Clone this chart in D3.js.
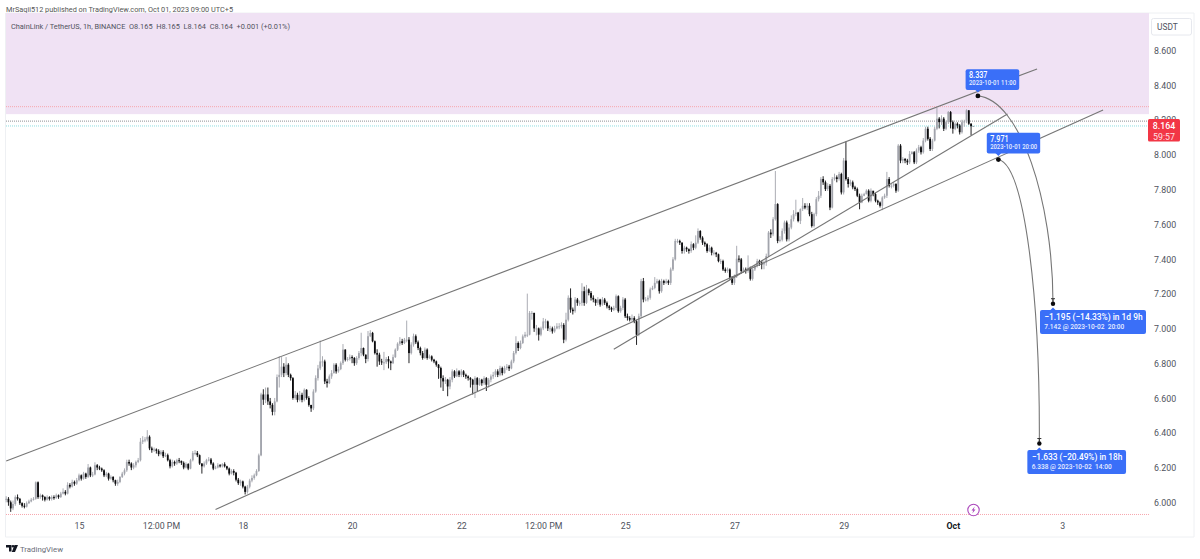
<!DOCTYPE html>
<html>
<head>
<meta charset="utf-8">
<title>ChainLink / TetherUS, 1h</title>
<script src="https://cdnjs.cloudflare.com/ajax/libs/d3/7.8.5/d3.min.js"></script>
<style>
  html, body { margin: 0; padding: 0; background: #fff; }
  svg { display: block; font-family: Roboto, "Open Sans", sans-serif; }
  .axis path, .axis line { display: none; }
  .axis text { font-size: 8.8px; fill: #50535e; font-family: Roboto, sans-serif; }
</style>
</head>
<body>
<svg id="chart" width="1200" height="559"></svg>
<script>
// Hourly bars from 2023-09-13 16:00 to 2023-10-01 09:00, each row is 20 hours.
const firstBar = Date.UTC(2023, 8, 13, 16);

const closes = [
  6.02,6.00,5.965,5.99,6.03,6.02,5.995,5.98,5.975,5.995,6.005,6.015,6.02,6.115,6.03,6.04,6.03,6.015,6.03,6.02,
  6.03,6.026,6.04,6.03,6.05,6.06,6.05,6.10,6.09,6.117,6.107,6.127,6.155,6.136,6.165,6.146,6.20,6.155,6.16,6.213,
  6.2,6.194,6.184,6.155,6.165,6.136,6.146,6.127,6.107,6.117,6.146,6.165,6.184,6.232,6.223,6.2,6.213,6.232,6.242,6.348,
  6.357,6.361,6.377,6.31,6.30,6.304,6.296,6.277,6.29,6.265,6.271,6.242,6.207,6.232,6.223,6.242,6.238,6.227,6.2,6.22,
  6.194,6.242,6.284,6.284,6.271,6.223,6.207,6.223,6.242,6.246,6.223,6.194,6.2,6.213,6.207,6.219,6.207,6.194,6.165,6.18,
  6.17,6.13,6.11,6.12,6.09,6.06,6.09,6.125,6.14,6.155,6.18,6.27,6.62,6.59,6.62,6.58,6.56,6.52,6.58,6.72,
  6.733,6.78,6.743,6.791,6.733,6.714,6.6,6.618,6.589,6.618,6.589,6.647,6.6,6.56,6.54,6.637,6.714,6.77,6.81,6.81,
  6.695,6.685,6.724,6.743,6.791,6.753,6.766,6.8,6.878,6.82,6.824,6.835,6.83,6.8,6.83,6.858,6.887,6.849,6.824,6.955,
  6.974,6.926,6.858,6.849,6.81,6.805,6.805,6.824,6.81,6.8,6.835,6.878,6.912,6.926,6.916,6.935,6.935,6.858,6.907,6.955,
  6.92,6.887,6.858,6.83,6.878,6.83,6.839,6.82,6.81,6.791,6.772,6.714,6.695,6.705,6.666,6.705,6.753,6.724,6.753,6.733,
  6.753,6.733,6.724,6.714,6.705,6.676,6.714,6.676,6.705,6.685,6.714,6.676,6.705,6.724,6.733,6.753,6.733,6.772,6.743,6.772,
  6.78,6.77,6.81,6.858,6.916,6.887,6.916,6.954,6.964,6.964,7.089,7.089,7.0,7.0,6.964,7.0,7.04,7.04,7.0,7.0,
  6.983,7.0,7.012,7.012,7.02,6.935,7.05,7.176,7.108,7.099,7.166,7.147,7.147,7.214,7.147,7.224,7.204,7.176,7.166,7.147,
  7.166,7.137,7.166,7.147,7.127,7.118,7.108,7.118,7.185,7.099,7.118,7.166,7.07,7.06,7.05,7.06,7.041,6.964,7.07,7.272,
  7.166,7.166,7.176,7.224,7.233,7.262,7.272,7.214,7.272,7.262,7.272,7.262,7.339,7.397,7.503,7.503,7.493,7.445,7.464,7.455,
  7.445,7.484,7.464,7.493,7.56,7.522,7.493,7.484,7.445,7.464,7.435,7.435,7.426,7.387,7.387,7.339,7.33,7.339,7.291,7.262,
  7.3,7.401,7.397,7.33,7.339,7.33,7.349,7.285,7.339,7.358,7.387,7.378,7.368,7.378,7.416,7.551,7.541,7.628,7.715,7.503,
  7.51,7.561,7.609,7.512,7.58,7.628,7.657,7.666,7.618,7.686,7.705,7.695,7.705,7.657,7.589,7.657,7.743,7.763,7.859,7.84,
  7.801,7.82,7.695,7.859,7.869,7.859,7.888,7.782,7.965,7.859,7.83,7.84,7.811,7.801,7.763,7.724,7.763,7.772,7.792,7.734,
  7.792,7.772,7.734,7.724,7.705,7.753,7.763,7.859,7.82,7.82,7.83,7.792,8.051,7.965,7.974,7.965,7.955,8.003,8.013,7.955,
  8.023,8.042,8.013,8.08,8.148,8.09,8.032,8.08,8.148,8.206,8.186,8.206,8.148,8.186,8.244,8.186,8.148,8.177,8.167,8.128,
  8.186,8.19,8.254,8.177,8.163,8.164
];

const highs = [
  6.035,6.03,6.01,6.01,6.04,6.045,6.025,6.0,5.995,6.005,6.015,6.025,6.03,6.12,6.12,6.05,6.045,6.035,6.04,6.035,
  6.04,6.04,6.05,6.045,6.06,6.08,6.07,6.115,6.11,6.13,6.125,6.14,6.165,6.16,6.175,6.17,6.22,6.205,6.175,6.23,
  6.22,6.21,6.2,6.19,6.175,6.17,6.155,6.15,6.13,6.13,6.15,6.175,6.195,6.245,6.245,6.23,6.225,6.24,6.255,6.37,
  6.38,6.375,6.415,6.385,6.32,6.315,6.31,6.305,6.3,6.3,6.285,6.28,6.25,6.245,6.24,6.25,6.255,6.24,6.235,6.23,
  6.225,6.25,6.295,6.3,6.295,6.275,6.225,6.235,6.25,6.26,6.255,6.23,6.21,6.225,6.22,6.225,6.23,6.21,6.2,6.19,
  6.19,6.175,6.14,6.13,6.125,6.095,6.1,6.135,6.155,6.165,6.19,6.28,6.63,6.65,6.66,6.66,6.6,6.57,6.6,6.735,
  6.84,6.835,6.8,6.835,6.8,6.74,6.72,6.64,6.63,6.64,6.63,6.655,6.65,6.61,6.56,6.65,6.73,6.79,6.93,6.84,
  6.82,6.71,6.735,6.76,6.8,6.8,6.78,6.81,6.91,6.88,6.835,6.85,6.845,6.835,6.84,6.87,6.975,6.89,6.85,6.985,
  6.99,6.98,6.93,6.88,6.86,6.825,6.865,6.835,6.84,6.815,6.85,6.885,6.92,6.95,6.94,6.945,7.045,6.95,6.92,6.97,
  6.965,6.93,6.895,6.87,6.89,6.885,6.85,6.845,6.825,6.815,6.795,6.78,6.73,6.72,6.71,6.72,6.765,6.76,6.77,6.76,
  6.765,6.76,6.74,6.73,6.72,6.71,6.725,6.72,6.715,6.71,6.725,6.72,6.715,6.735,6.75,6.765,6.765,6.785,6.78,6.785,
  6.795,6.79,6.82,6.87,6.955,6.925,6.93,6.965,6.98,7.2,7.1,7.1,7.09,7.02,7.005,7.01,7.06,7.055,7.045,7.015,
  7.01,7.015,7.03,7.03,7.035,7.03,7.09,7.19,7.23,7.12,7.18,7.175,7.16,7.26,7.24,7.25,7.23,7.215,7.19,7.17,
  7.18,7.17,7.18,7.175,7.155,7.135,7.125,7.13,7.195,7.19,7.13,7.18,7.175,7.085,7.07,7.08,7.07,7.05,7.085,7.285,
  7.29,7.18,7.19,7.235,7.245,7.295,7.285,7.28,7.285,7.28,7.285,7.28,7.35,7.41,7.515,7.515,7.51,7.495,7.475,7.47,
  7.46,7.5,7.49,7.535,7.575,7.565,7.53,7.5,7.49,7.48,7.47,7.45,7.44,7.43,7.4,7.395,7.35,7.35,7.345,7.3,
  7.31,7.475,7.42,7.405,7.35,7.35,7.42,7.355,7.345,7.365,7.4,7.395,7.39,7.39,7.43,7.56,7.57,7.64,7.905,7.72,
  7.53,7.575,7.62,7.62,7.6,7.65,7.68,7.74,7.67,7.69,7.75,7.72,7.72,7.72,7.67,7.665,7.755,7.79,7.87,7.875,
  7.85,7.835,7.83,7.87,7.89,7.88,7.9,7.895,7.98,8.075,7.87,7.855,7.85,7.82,7.81,7.775,7.775,7.78,7.8,7.8,
  7.805,7.79,7.78,7.74,7.73,7.76,7.775,7.9,7.87,7.83,7.84,7.835,8.06,8.06,7.985,7.98,7.975,8.02,8.02,8.02,
  8.035,8.055,8.05,8.095,8.16,8.16,8.1,8.09,8.16,8.27,8.215,8.225,8.215,8.195,8.25,8.25,8.195,8.185,8.185,8.175,
  8.2,8.2,8.26,8.255,8.18,8.165
];

const lows = [
  6.0,5.98,5.945,5.955,5.98,6.01,5.985,5.97,5.965,5.97,5.99,6.0,6.01,6.015,6.02,6.02,6.01,6.005,6.01,6.01,
  6.01,6.015,6.02,6.02,6.025,6.045,6.04,6.045,6.08,6.085,6.095,6.1,6.12,6.125,6.13,6.135,6.14,6.145,6.145,6.155,
  6.185,6.185,6.175,6.145,6.145,6.125,6.13,6.115,6.095,6.095,6.11,6.14,6.155,6.175,6.21,6.185,6.19,6.2,6.225,6.235,
  6.335,6.345,6.35,6.3,6.285,6.29,6.28,6.265,6.27,6.255,6.26,6.235,6.195,6.2,6.21,6.215,6.225,6.215,6.19,6.195,
  6.185,6.19,6.235,6.27,6.26,6.215,6.165,6.2,6.215,6.235,6.215,6.185,6.19,6.195,6.2,6.2,6.2,6.185,6.155,6.16,
  6.155,6.12,6.1,6.095,6.08,6.045,6.05,6.08,6.115,6.13,6.15,6.175,6.265,6.56,6.57,6.56,6.54,6.5,6.5,6.575,
  6.66,6.72,6.72,6.73,6.72,6.7,6.59,6.59,6.575,6.58,6.575,6.58,6.59,6.55,6.52,6.53,6.63,6.7,6.76,6.78,
  6.68,6.66,6.68,6.71,6.74,6.74,6.745,6.76,6.79,6.81,6.81,6.815,6.8,6.785,6.79,6.82,6.84,6.84,6.8,6.81,
  6.95,6.92,6.85,6.78,6.79,6.79,6.76,6.795,6.77,6.76,6.795,6.83,6.87,6.9,6.905,6.91,6.92,6.8,6.85,6.895,
  6.91,6.875,6.845,6.82,6.825,6.82,6.825,6.81,6.8,6.78,6.71,6.66,6.64,6.68,6.61,6.65,6.69,6.715,6.72,6.72,
  6.72,6.72,6.71,6.7,6.66,6.62,6.6,6.64,6.67,6.67,6.675,6.64,6.66,6.69,6.71,6.72,6.72,6.725,6.73,6.74,
  6.76,6.755,6.765,6.8,6.85,6.87,6.88,6.91,6.945,6.95,6.96,7.05,6.98,6.96,6.93,6.955,6.99,7.0,6.985,6.98,
  6.97,6.975,6.995,6.995,7.0,6.915,6.925,7.04,7.09,7.08,7.09,7.13,7.13,7.13,7.13,7.14,7.19,7.16,7.15,7.13,
  7.135,7.125,7.13,7.135,7.115,7.105,7.095,7.1,7.105,7.09,7.09,7.105,7.06,7.045,7.04,7.04,7.03,6.905,6.955,7.06,
  7.15,7.155,7.155,7.165,7.22,7.225,7.255,7.2,7.205,7.25,7.255,7.25,7.25,7.33,7.39,7.49,7.48,7.43,7.43,7.44,
  7.43,7.435,7.45,7.455,7.485,7.51,7.48,7.47,7.435,7.44,7.42,7.42,7.41,7.38,7.37,7.33,7.32,7.32,7.28,7.25,
  7.25,7.29,7.38,7.315,7.32,7.315,7.32,7.275,7.275,7.33,7.35,7.36,7.34,7.34,7.36,7.41,7.52,7.53,7.62,7.49,
  7.495,7.5,7.545,7.5,7.5,7.57,7.615,7.645,7.61,7.6,7.675,7.685,7.68,7.645,7.58,7.58,7.645,7.73,7.75,7.825,
  7.79,7.79,7.68,7.69,7.85,7.84,7.85,7.77,7.77,7.85,7.81,7.82,7.8,7.79,7.755,7.685,7.72,7.76,7.77,7.725,
  7.725,7.76,7.725,7.71,7.695,7.68,7.745,7.75,7.81,7.805,7.81,7.78,7.785,7.95,7.95,7.95,7.94,7.945,8.0,7.945,
  7.945,8.01,8.0,8.005,8.07,8.08,8.02,8.02,8.075,8.14,8.15,8.17,8.135,8.14,8.175,8.15,8.12,8.14,8.15,8.115,
  8.12,8.16,8.18,8.17,8.11,8.164
];

const priceTicks = [6.0,6.2,6.4,6.6,6.8,7.0,7.2,7.4,7.6,7.8,8.0,8.2,8.4,8.6];
const timeTicks = [
  ["2023-09-15T00:00Z", "15"], ["2023-09-16T12:00Z", "12:00 PM"], ["2023-09-18T00:00Z", "18"],
  ["2023-09-20T00:00Z", "20"], ["2023-09-22T00:00Z", "22"], ["2023-09-23T12:00Z", "12:00 PM"],
  ["2023-09-25T00:00Z", "25"], ["2023-09-27T00:00Z", "27"], ["2023-09-29T00:00Z", "29"],
  ["2023-10-01T00:00Z", "Oct"], ["2023-10-03T00:00Z", "3"]
];

// Drawn trend lines as [time, price] end points.
const upperChannel = [["2023-09-13T16:00Z", 6.2375], ["2023-10-02T13:00Z", 8.492]];
const lowerChannel = [["2023-09-17T12:00Z", 5.959], ["2023-10-03T18:00Z", 8.256]];
const risingSupport = [["2023-09-24T19:00Z", 6.88], ["2023-10-02T00:00Z", 8.233]];

// Projected drops: start, two bezier handles, end.
const dropA = [["2023-10-01T11:00Z", 8.337], ["2023-10-02T05:30Z", 8.314], ["2023-10-02T20:00Z", 7.738], ["2023-10-02T20:00Z", 7.142]];
const dropB = [["2023-10-01T20:00Z", 7.971], ["2023-10-02T07:40Z", 7.94], ["2023-10-02T14:20Z", 7.163], ["2023-10-02T14:00Z", 6.338]];

// Horizontal levels.
const bandTop = 8.232;
const upperLevel = 8.275;
const lowerLevel = 5.93;
const highLevel = 8.192;
const lastPrice = 8.164;

const svg = d3.select("#chart");
const x = d3.scaleUtc().domain([new Date("2023-09-15T00:00Z"), new Date("2023-10-03T00:00Z")]).range([79, 1062.1]);
const y = d3.scaleLinear().domain([6, 8.6]).range([502.3, 50.16]);

const plotLeft = 6, plotRight = 1149, plotTop = 13, frameRight = 1194, frameBottom = 537;
const t = s => x(new Date(s));
const pt = ([s, p]) => [t(s), y(p)];

// Frame around the chart.
svg.append("path")
  .attr("d", `M${plotLeft - .5},13V${frameBottom}H${frameRight}V13H${plotLeft}`)
  .attr("fill", "none").attr("stroke", "#eef0f3").attr("stroke-width", 1);

// Shaded zone above the resistance.
svg.append("rect").attr("x", plotLeft).attr("y", plotTop)
  .attr("width", plotRight - plotLeft).attr("height", y(bandTop) - plotTop)
  .attr("fill", "#f0e2f4");

// Levels.
const level = (p, color, dash) => svg.append("line")
  .attr("x1", plotLeft).attr("x2", plotRight).attr("y1", y(p)).attr("y2", y(p))
  .attr("stroke", color).attr("stroke-width", 1).attr("stroke-dasharray", dash);
level(upperLevel, "#f7a6ad", "1 1");
level(lowerLevel, "#f7a6ad", "1 1");
level(highLevel, "#8f8f93", "1 1");
level(lastPrice, "#8fdde0", "1 1");

// Candles: open is the prior close.
const bars = closes.map((c, i) => ({
  time: new Date(firstBar + i * 3600e3),
  open: i ? closes[i - 1] : c,
  close: c, high: highs[i], low: lows[i]
}));
const upColor = "#a2a4ac", downColor = "#0b0b0d";
const candles = svg.append("g").selectAll("g").data(bars).join("g");
candles.append("line")
  .attr("x1", d => x(d.time)).attr("x2", d => x(d.time))
  .attr("y1", d => y(d.high)).attr("y2", d => y(d.low))
  .attr("stroke", d => d.close >= d.open ? upColor : downColor)
  .attr("stroke-width", .9);
candles.append("rect")
  .attr("x", d => x(d.time) - .9).attr("width", 1.8)
  .attr("y", d => y(Math.max(d.open, d.close)))
  .attr("height", d => Math.max(1, Math.abs(y(d.open) - y(d.close))))
  .attr("fill", d => d.close >= d.open ? upColor : downColor);

// Trend lines.
for (const seg of [upperChannel, lowerChannel, risingSupport]) {
  svg.append("path").attr("d", d3.line()(seg.map(pt)))
    .attr("fill", "none").attr("stroke", "#767676").attr("stroke-width", 1.1);
}

// Drop curves with their end markers.
for (const c of [dropA, dropB]) {
  const [a, b, d, e] = c.map(pt);
  const path = d3.path();
  path.moveTo(a[0], a[1]);
  path.bezierCurveTo(b[0], b[1], d[0], d[1], e[0], e[1]);
  svg.append("path").attr("d", path.toString()).attr("fill", "none")
    .attr("stroke", "#767676").attr("stroke-width", 1.1);
  svg.append("circle").attr("cx", a[0]).attr("cy", a[1]).attr("r", 2.4).attr("fill", "#0b0b0d");
  svg.append("circle").attr("cx", e[0]).attr("cy", e[1]).attr("r", 2.2).attr("fill", "#0b0b0d");
  svg.append("path")
    .attr("d", `M${e[0] - 2},${e[1] - 5}h4M${e[0]},${e[1] - 5}v3`)
    .attr("stroke", "#333").attr("stroke-width", 1).attr("fill", "none");
}

// Blue callouts anchored to their price points.
const callouts = [
  { at: dropA[0], dx: -12.3, dy: -26.6, w: 53.6, h: 20.7, up: false, main: "8.337", sub: "2023-10-01 11:00",
    mainSize: 9, subSize: 6.4, mainLen: 18.5, subLen: 47, mainY: 9.2, subY: 16.2, pad: 3.4 },
  { at: dropB[0], dx: -11.6, dy: -26.8, w: 53.4, h: 20.7, up: false, main: "7.971", sub: "2023-10-01 20:00",
    mainSize: 9, subSize: 6.4, mainLen: 18.5, subLen: 47, mainY: 9.2, subY: 16.2, pad: 3.4 },
  { at: dropA[3], dx: -13, dy: 6.3, w: 106, h: 24, up: true, main: "\u22121.195 (\u221214.33%) in 1d 9h", sub: "7.142 @ 2023-10-02  20:00",
    mainSize: 9.4, subSize: 6.6, mainLen: 98.3, subLen: 80, mainY: 10.3, subY: 19.4, pad: 4.3 },
  { at: dropB[3], dx: -12, dy: 6.5, w: 98.7, h: 24, up: true, main: "\u22121.633 (\u221220.49%) in 18h", sub: "6.338 @ 2023-10-02  14:00",
    mainSize: 9.4, subSize: 6.6, mainLen: 90.7, subLen: 80, mainY: 10.3, subY: 19.4, pad: 4.3 }
];
const blue = "#3a6ff8";
for (const c of callouts) {
  const [ax, ay] = pt(c.at);
  const g = svg.append("g").attr("transform", `translate(${ax + c.dx},${ay + c.dy})`);
  g.append("rect").attr("width", c.w).attr("height", c.h).attr("rx", 2).attr("fill", blue);
  const tipY = c.up ? -2.5 : c.h + 2.5, baseY = c.up ? 0.5 : c.h - 0.5;
  g.append("path")
    .attr("d", `M${-c.dx - 3},${baseY}L${-c.dx},${tipY}L${-c.dx + 3},${baseY}Z`).attr("fill", blue);
  g.append("text").attr("x", c.pad).attr("y", c.mainY)
    .attr("font-size", c.mainSize).attr("font-weight", 500).attr("fill", "#fff")
    .attr("textLength", c.mainLen).attr("lengthAdjust", "spacingAndGlyphs").text(c.main);
  g.append("text").attr("x", c.pad).attr("y", c.subY)
    .attr("font-size", c.subSize).attr("font-weight", 500).attr("fill", "#e8eeff")
    .attr("textLength", c.subLen).attr("lengthAdjust", "spacingAndGlyphs")
    .style("white-space", "pre").text(c.sub);
}

// Price axis.
const yAxis = svg.append("g").attr("class", "axis").attr("transform", `translate(${plotRight},0)`)
  .call(d3.axisRight(y).tickValues(priceTicks).tickSize(0).tickPadding(5).tickFormat(d3.format(".3f")));
yAxis.selectAll("text").attr("dy", "0.36em");

// Time axis.
const tickLabel = new Map(timeTicks.map(([s, l]) => [+new Date(s), l]));
const xAxis = svg.append("g").attr("class", "axis").attr("transform", "translate(0,523)")
  .call(d3.axisBottom(x).tickValues(timeTicks.map(([s]) => new Date(s))).tickSize(0).tickPadding(0)
    .tickFormat(d => tickLabel.get(+d)));
xAxis.selectAll("text")
  .attr("font-weight", d => tickLabel.get(+d) === "Oct" ? 700 : null)
  .style("fill", d => tickLabel.get(+d) === "Oct" ? "#131722" : null);

// Last price tag with bar countdown.
svg.append("rect").attr("x", plotRight - 1).attr("y", y(lastPrice) - 7).attr("width", 32).attr("height", 22.5)
  .attr("rx", 1.5).attr("fill", "#f23645");
svg.append("text").attr("x", plotRight + 15).attr("y", y(lastPrice) + 3.3).attr("text-anchor", "middle")
  .attr("font-size", 8.8).attr("font-weight", 500).attr("fill", "#fff").text("8.164");
svg.append("text").attr("x", plotRight + 15).attr("y", y(lastPrice) + 13.6).attr("text-anchor", "middle")
  .attr("font-size", 8.8).attr("fill", "#ffe1e4").text("59:57");

// Quote currency button.
svg.append("rect").attr("x", 1151.5).attr("y", 18.5).attr("width", 40).attr("height", 16.5).attr("rx", 2)
  .attr("fill", "#fff").attr("stroke", "#e6e8ee");
svg.append("text").attr("x", 1157).attr("y", 30).attr("font-size", 8.4).attr("fill", "#50535e").text("USDT");

// Publisher line and symbol legend.
svg.append("text").attr("x", 6).attr("y", 11.5).attr("font-size", 7.6).attr("fill", "#555")
  .attr("textLength", 227).attr("lengthAdjust", "spacingAndGlyphs")
  .text("MrSaqii512 published on TradingView.com, Oct 01, 2023 09:00 UTC+5");
svg.append("text").attr("x", 11).attr("y", 28.5).attr("font-size", 7.8).attr("fill", "#50535e")
  .attr("textLength", 279).attr("lengthAdjust", "spacingAndGlyphs")
  .style("white-space", "pre")
  .text("ChainLink / TetherUS, 1h, BINANCE  O8.165  H8.165  L8.164  C8.164  +0.001 (+0.01%)");

// Event badge on the time line.
const badge = svg.append("g").attr("transform", "translate(973.5,510)");
badge.append("circle").attr("r", 5.7).attr("fill", "#fff").attr("stroke", "#ab47bc").attr("stroke-width", 1.1);
badge.append("path").attr("d", "M1.2,-3.4L-2,0.5H-0.2L-1.2,3.4L2,-0.5H0.2Z").attr("fill", "#ab47bc");

// Wordmark in the bottom corner.
const mark = svg.append("g").attr("transform", "translate(6,545)");
mark.append("path").attr("d", "M0,0H5.5V6.5H3V2.5H0ZM8.5,0H12L9,7H5.8Z").attr("fill", "#131722");
mark.append("circle").attr("cx", 7).attr("cy", 1.3).attr("r", 1.3).attr("fill", "#131722");
svg.append("text").attr("x", 20).attr("y", 551.5).attr("font-size", 8).attr("fill", "#6a6d78")
  .attr("textLength", 43).attr("lengthAdjust", "spacingAndGlyphs").text("TradingView");
</script>
</body>
</html>
